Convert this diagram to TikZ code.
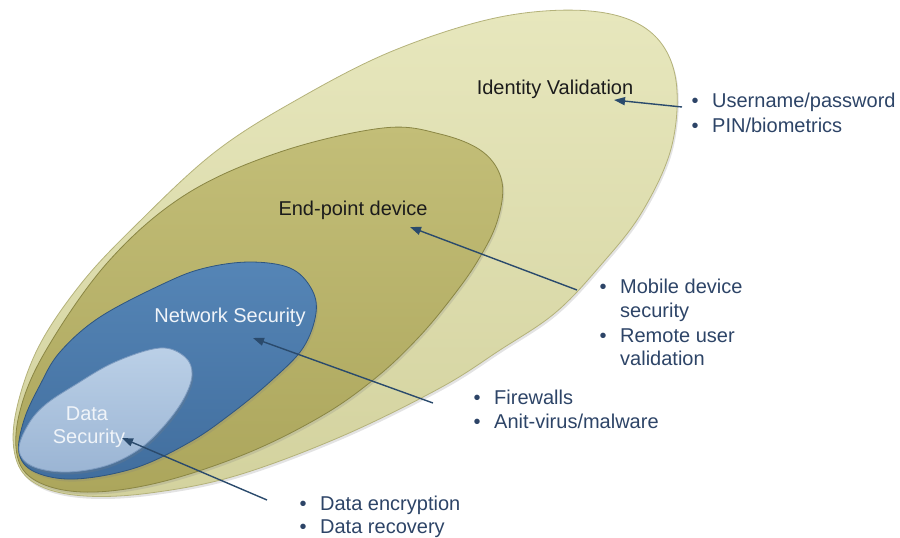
\documentclass[tikz,border=0pt]{standalone}
\usepackage{fontspec}
\setmainfont{Liberation Sans}
\usetikzlibrary{arrows.meta,shadows}

\definecolor{khakiA}{HTML}{E7E7BD}
\definecolor{khakiB}{HTML}{D3D29E}
\definecolor{khakiRim}{HTML}{B4B27A}
\definecolor{oliveA}{HTML}{C3BE78}
\definecolor{oliveB}{HTML}{ACA65C}
\definecolor{oliveRim}{HTML}{8A8644}
\definecolor{blueA}{HTML}{5585B6}
\definecolor{blueB}{HTML}{416E9E}
\definecolor{blueRim}{HTML}{2E5580}
\definecolor{paleA}{HTML}{BBD0E7}
\definecolor{paleB}{HTML}{9BB5D4}
\definecolor{paleRim}{HTML}{7D9BC0}
\definecolor{navytext}{HTML}{2D4467}
\definecolor{arrowc}{HTML}{2A4A6C}
\definecolor{darklabel}{HTML}{1C1C1C}
\definecolor{lightlabel}{HTML}{F0F4F9}

\newcommand{\bulmark}{\makebox[20.5pt][l]{•}}
\newcommand{\bulindent}{\hspace*{20.5pt}}

\begin{document}
\begin{tikzpicture}[x=1pt, y=-1pt,
  zone/.style={line width=0.8pt, shading angle=20,
    drop shadow={opacity=0.22, shadow xshift=1.5pt, shadow yshift=-2.5pt}},
  lbl/.style={font=\fontsize{20}{23}\selectfont, inner sep=0pt, anchor=base, align=center},
  item/.style={font=\fontsize{20}{24}\selectfont, text=navytext, inner sep=0pt, anchor=base west},
  link/.style={draw=arrowc, line width=1.4pt, -{Triangle[length=11pt, width=8pt]}}]

\useasboundingbox (0,0) rectangle (900,538);

% outer zone: identity validation
\path[zone, top color=khakiA, bottom color=khakiB, draw=khakiRim]
  plot[smooth cycle, tension=0.6] coordinates {
    (500,17) (590,11) (648,30) (675,75) (672,145) (642,212) (600,266)
    (555,313) (500,350) (440,388) (340,437) (235,476) (150,493) (85,496)
    (40,486) (17,462) (15,417) (37,350) (80,285) (135,226) (215,152)
    (300,98) (395,50)};

% end-point device zone
\path[zone, top color=oliveA, bottom color=oliveB, draw=oliveRim]
  plot[smooth cycle, tension=0.6] coordinates {
    (383,128) (440,134) (483,152) (502,182) (497,222) (477,262) (450,300)
    (418,338) (378,376) (325,414) (250,452) (165,481) (95,492) (45,485)
    (19,462) (19,415) (45,352) (108,262) (185,195) (280,152)};

% network security zone
\path[zone, top color=blueA, bottom color=blueB, draw=blueRim]
  plot[smooth cycle, tension=0.6] coordinates {
    (250,262) (290,268) (311,288) (316,313) (303,348) (272,380) (232,413)
    (190,442) (135,468) (75,479) (35,472) (19,453) (24,420) (40,385)
    (60,352) (100,317) (165,283) (205,268)};

% data security zone
\path[zone, top color=paleA, bottom color=paleB, draw=paleRim]
  plot[smooth cycle, tension=0.6] coordinates {
    (160,348) (185,357) (192,375) (183,400) (163,427) (138,450) (105,466)
    (65,472) (32,466) (19,450) (28,425) (45,405) (75,385) (115,362)};

% zone labels
\node[lbl, text=darklabel] (idv) at (555,94) {Identity Validation};
\node[lbl, text=darklabel] (epd) at (353,215) {End-point device};
\node[lbl, text=lightlabel] (nws) at (230,322) {Network Security};
\node[lbl, text=lightlabel] (dts1) at (87,420) {Data};
\node[lbl, text=lightlabel] (dts2) at (89,443) {Security};

% bullet lists
\node[item] (u1) at (691.5,107) {\bulmark Username/password};
\node[item] (u2) at (691.5,132) {\bulmark PIN/biometrics};

\node[item] (m1) at (599.5,293) {\bulmark Mobile device};
\node[item] (m2) at (599.5,317) {\bulindent security};
\node[item] (m3) at (599.5,342) {\bulmark Remote user};
\node[item] (m4) at (599.5,365) {\bulindent validation};

\node[item] (f1) at (473.5,404) {\bulmark Firewalls};
\node[item] (f2) at (473.5,428) {\bulmark Anit-virus/malware};

\node[item] (d1) at (299.5,510) {\bulmark Data encryption};
\node[item] (d2) at (299.5,533) {\bulmark Data recovery};

% arrow end points
\coordinate (idtail) at (682,107);
\coordinate (idtip)  at (614,100);
\coordinate (eptail) at (577,290);
\coordinate (eptip)  at (410,227);
\coordinate (nstail) at (433,403);
\coordinate (nstip)  at (253,338);
\coordinate (dstail) at (267,500);
\coordinate (dstip)  at (122,438);

\draw[link] (idtail) -- (idtip);
\draw[link] (eptail) -- (eptip);
\draw[link] (nstail) -- (nstip);
\draw[link] (dstail) -- (dstip);

\end{tikzpicture}
\end{document}
